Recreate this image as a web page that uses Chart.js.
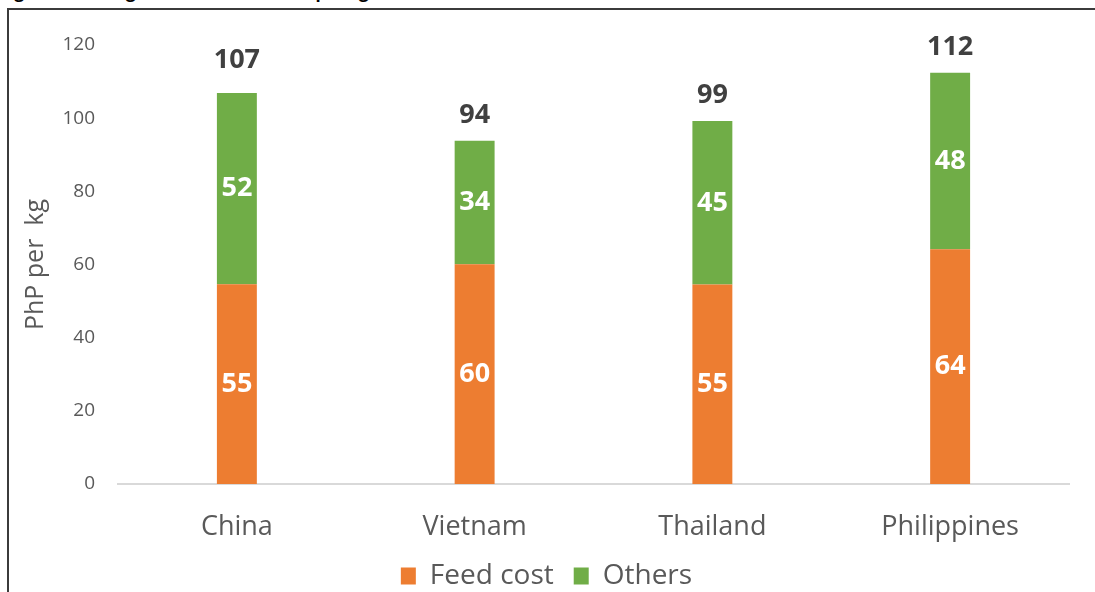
<!DOCTYPE html>
<html><head><meta charset="utf-8">
<script src="https://cdn.jsdelivr.net/npm/chart.js@4"></script>
<style>
html,body{margin:0;padding:0;background:#fff;overflow:hidden;width:1095px;height:592px;}
#wrap{position:absolute;left:0;top:0;width:1095px;height:600px;}
#frameTop{position:absolute;left:7px;top:8px;width:1088px;height:2px;background:#3b3b3b;}
#frameLeft{position:absolute;left:7px;top:8px;width:2px;height:600px;background:#3b3b3b;}
#title{position:absolute;left:0px;top:-17px;font:bold 17px 'Open Sans';line-height:17px;white-space:nowrap;color:#000;}
</style></head><body>
<div id="title">Figure 5. Average cost structure, PhP per kg</div>
<div id="wrap"><canvas id="c" width="1095" height="600"></canvas></div>
<div id="frameTop"></div><div id="frameLeft"></div>
<script>
const categories = ['China', 'Vietnam', 'Thailand', 'Philippines'];
const feedCost = [54.6, 60.1, 54.5, 64.2];
const others = [52.3, 33.7, 44.7, 48.2];
const yTicks = [0, 20, 40, 60, 80, 100, 120];
const yTitle = 'PhP per  kg';

const labelPlugin = {
  id: 'valueLabels',
  afterLayout(chart, args, opts) {
    if (chart.legend) {
      chart.legend.left += opts.legendShift;
      chart.legend.right += opts.legendShift;
    }
  },
  afterDatasetsDraw(chart, args, opts) {
    const ctx = chart.ctx;
    const ys = chart.scales.y;
    ctx.save();
    ctx.textAlign = 'center';
    ctx.textBaseline = 'middle';
    ctx.font = 'bold 27px "Open Sans"';
    ctx.fillStyle = '#ffffff';
    chart.data.datasets.forEach((ds, di) => {
      const meta = chart.getDatasetMeta(di);
      meta.data.forEach((bar, i) => {
        ctx.fillText(String(Math.round(ds.data[i])), bar.x, (bar.y + bar.base) / 2);
      });
    });
    ctx.fillStyle = '#404040';
    const meta0 = chart.getDatasetMeta(0);
    categories.forEach((c, i) => {
      const total = chart.data.datasets.reduce((s, ds) => s + ds.data[i], 0);
      const py = ys.getPixelForValue(total);
      ctx.fillText(String(Math.round(total)), meta0.data[i].x, py - opts.lift[i]);
    });
    ctx.restore();
  }
};

new Chart(document.getElementById('c'), {
  type: 'bar',
  data: {
    labels: categories,
    datasets: [
      { label: 'Feed cost', data: feedCost, backgroundColor: '#ED7D31', borderWidth: 0, categoryPercentage: 1, barPercentage: 0.168 },
      { label: 'Others', data: others, backgroundColor: '#70AD47', borderWidth: 0, categoryPercentage: 1, barPercentage: 0.168 }
    ]
  },
  plugins: [labelPlugin],
  options: {
    responsive: false,
    animation: false,
    layout: { padding: { left: 0, right: 26, top: 45, bottom: 0 } },
    scales: {
      x: {
        stacked: true,
        grid: { display: false, drawTicks: false },
        border: { display: true, color: '#d9d9d9', width: 2 },
        ticks: { padding: 27, color: '#595959', font: { family: 'Open Sans', size: 27 } },
        afterFit(s) { s.height = 58; }
      },
      y: {
        stacked: true,
        min: yTicks[0],
        max: yTicks[yTicks.length - 1],
        title: { display: true, text: yTitle, color: '#595959', font: { family: 'Open Sans', size: 25 }, padding: { top: 21, bottom: 0 } },
        ticks: { stepSize: yTicks[1] - yTicks[0], padding: 23, color: '#595959', font: { family: 'Open Sans', size: 19 } },
        grid: { display: false, drawTicks: false },
        border: { display: false },
        afterFit(s) { s.width = 118; }
      }
    },
    plugins: {
      legend: {
        position: 'bottom',
        labels: { boxWidth: 15, boxHeight: 17, padding: 20, color: '#595959', font: { family: 'Open Sans', size: 28 } }
      },
      tooltip: { enabled: false },
      valueLabels: { lift: [33, 26, 26, 25], legendShift: 12 }
    }
  }
});
</script>
</body></html>
